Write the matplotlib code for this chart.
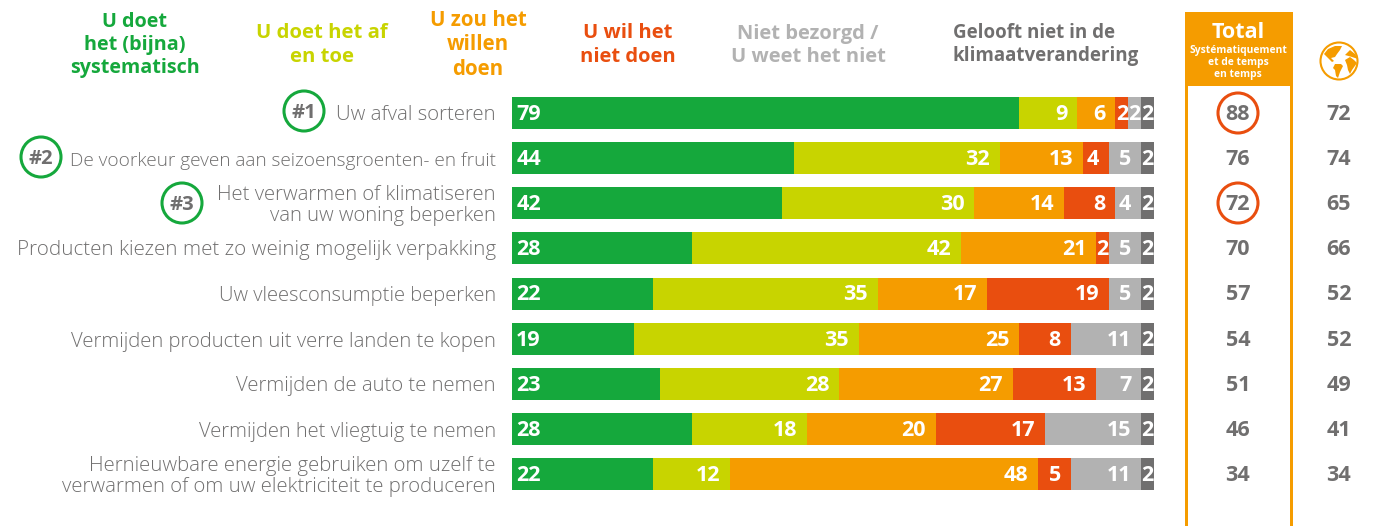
import matplotlib
matplotlib.use('Agg')
import matplotlib.pyplot as plt
from matplotlib.patches import Circle, Rectangle, Polygon

plt.rcParams['font.family'] = ['Open Sans', 'DejaVu Sans']

# data
labels = ['Uw afval sorteren',
          'De voorkeur geven aan seizoensgroenten- en fruit',
          'Het verwarmen of klimatiseren\nvan uw woning beperken',
          'Producten kiezen met zo weinig mogelijk verpakking',
          'Uw vleesconsumptie beperken',
          'Vermijden producten uit verre landen te kopen',
          'Vermijden de auto te nemen',
          'Vermijden het vliegtuig te nemen',
          'Hernieuwbare energie gebruiken om uzelf te\nverwarmen of om uw elektriciteit te produceren']
systematic = [79, 44, 42, 28, 22, 19, 23, 28, 22]
sometimes = [9, 32, 30, 42, 35, 35, 28, 18, 12]
would_like = [6, 13, 14, 21, 17, 25, 27, 20, 48]
wont = [2, 4, 8, 2, 19, 8, 13, 17, 5]
not_worried = [2, 5, 4, 5, 5, 11, 7, 15, 11]
no_belief = [2, 2, 2, 2, 2, 2, 2, 2, 2]
total = [88, 76, 72, 70, 57, 54, 51, 46, 34]
world = [72, 74, 65, 66, 52, 52, 49, 41, 34]
series = [systematic, sometimes, would_like, wont, not_worried, no_belief]
colors = ['#15a83c', '#c8d400', '#f59c00', '#e94e0f', '#b2b2b2', '#706f6f']
headers = ['U doet\nhet (bijna)\nsystematisch', 'U doet het af\nen toe', 'U zou het\nwillen\ndoen',
           'U wil het\nniet doen', 'Niet bezorgd /\nU weet het niet', 'Gelooft niet in de\nklimaatverandering']
header_x = [135, 322, 478, 628, 808, 1046]
header_align = ['center', 'center', 'center', 'center', 'center', 'left']
header_size = [14.2, 14.6, 14.8, 14.5, 14.5, 13.5]
label_size = [14.7, 13.65, 14.6, 14.75, 14.5, 14.6, 14.6, 14.5, 14.65]
ranks = {0: ('#1', 304, 111), 1: ('#2', 41, 157), 2: ('#3', 182, 203)}
row_y = [113, 158, 203, 248, 293.5, 339, 384, 429, 474]

W, H = 1375, 526
fig = plt.figure(figsize=(W / 100, H / 100), dpi=100)

# overlay in pixel coordinates for all the text and decoration
bg = fig.add_axes([0, 0, 1, 1])
bg.set_xlim(0, W)
bg.set_ylim(H, 0)
bg.axis('off')

# bars
ax = fig.add_axes([512 / W, 0, 642 / W, 1])
ax.set_xlim(0, 100)
ax.set_ylim(H, 0)
ax.axis('off')
ax.patch.set_alpha(0)

num_size = 15.5
for i, y in enumerate(row_y):
    left = 0
    ty = y + 1.5  # text sits a little under the bar centre
    for j, s in enumerate(series):
        v = s[i]
        ax.barh(y, v, left=left, height=32, color=colors[j], linewidth=0)
        if j == 0:
            ax.annotate(str(v), (left, ty), xytext=(3, 0), textcoords='offset points', color='white',
                        fontsize=num_size, fontweight='bold', ha='left', va='center')
        elif v <= 2:
            ax.text(left + v / 2, ty, str(v), color='white', fontsize=num_size, fontweight='bold',
                    ha='center', va='center')
        else:
            ax.annotate(str(v), (left + v, ty), xytext=(-7, 0), textcoords='offset points', color='white',
                        fontsize=num_size, fontweight='bold', ha='right', va='center')
        left += v

    bg.text(496, ty + 1, labels[i], ha='right', va='center', fontsize=label_size[i], color='#706f6f',
            fontweight='light', linespacing=1.12)
    bg.text(1238, ty, str(total[i]), ha='center', va='center', fontsize=num_size, fontweight='bold', color='#706f6f')
    bg.text(1339, ty, str(world[i]), ha='center', va='center', fontsize=num_size, fontweight='bold', color='#706f6f')

# column headers
for h, x, c, fs, al in zip(headers, header_x, colors, header_size, header_align):
    bg.text(x, 45, h, ha='center', va='center', multialignment=al, fontsize=fs, fontweight='bold', color=c,
            linespacing=1.2)

# rank circles
for i, (txt, x, y) in ranks.items():
    bg.add_patch(Circle((x, y), 20, fc='white', ec='#15a83c', lw=2.2))
    bg.text(x, y + 2, txt, ha='center', va='center', fontsize=14.5, fontweight='bold', color='#706f6f')

# total column
orange = '#f59c00'
bg.add_patch(Rectangle((1185, 12), 108, 74, fc=orange, ec='none'))
bg.add_patch(Rectangle((1185, 12), 3, H - 12, fc=orange, ec='none'))
bg.add_patch(Rectangle((1290, 12), 3, H - 12, fc=orange, ec='none'))
bg.text(1238, 33, 'Total', ha='center', va='center', fontsize=15.5, fontweight='bold', color='white')
bg.text(1238, 62.5, 'Systématiquement\net de temps\nen temps', ha='center', va='center', fontsize=7.4,
        fontweight='bold', color='white', linespacing=1.1)
for i in [0, 2]:
    bg.add_patch(Circle((1238, row_y[i]), 20, fc='none', ec='#e94e0f', lw=2.2))

# globe icon, outline
bg.add_patch(Circle((1339, 61), 18.5, fc='white', ec=orange, lw=1.5))
continents = [
    [(1324, 54), (1328, 49), (1335, 46), (1342, 46), (1340, 50), (1337, 54), (1335, 57), (1331, 58),
     (1334, 61), (1332, 62), (1328, 58)],
    [(1335, 64), (1341, 64), (1343, 66), (1340, 72), (1338, 78), (1336, 76), (1335, 70), (1333, 68)],
    [(1345, 60), (1350, 57), (1354, 60), (1357, 63), (1352, 70), (1350, 74), (1348, 70), (1347, 65)],
    [(1345, 55), (1350, 50), (1355, 54), (1358, 59), (1352, 57)],
]
for c in continents:
    bg.add_patch(Polygon(c, closed=True, fc=orange, ec='none'))

fig.savefig('out.png', dpi=100)
